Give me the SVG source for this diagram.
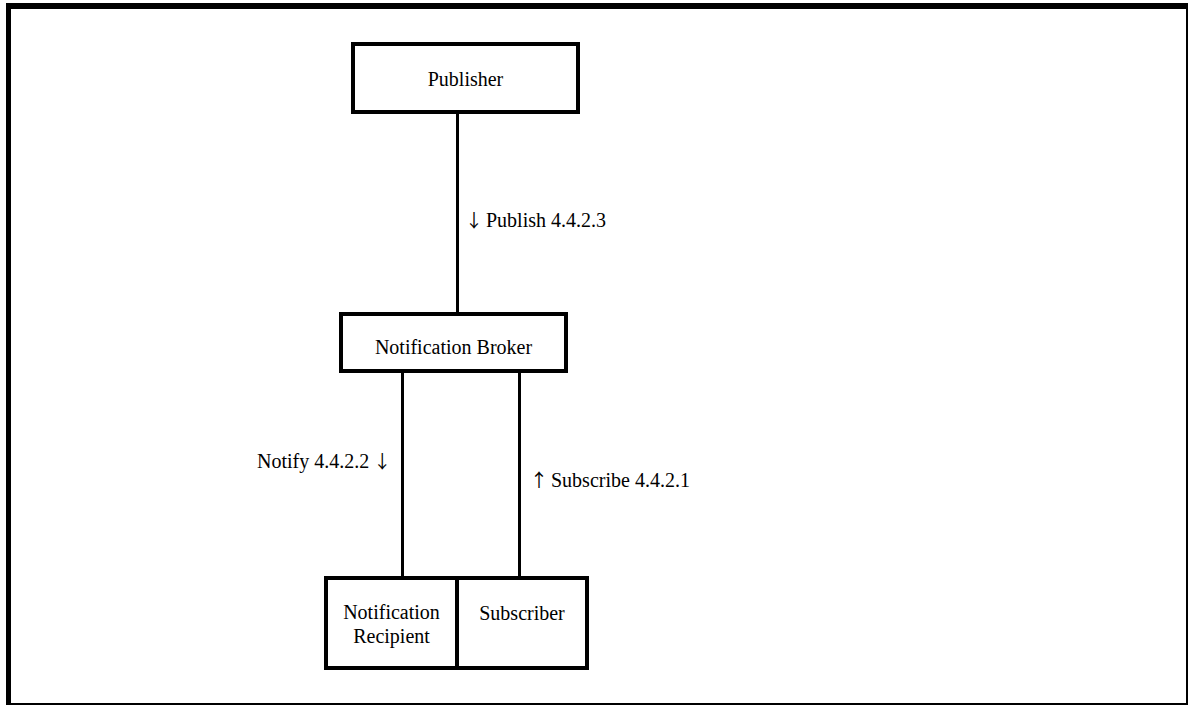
<svg xmlns="http://www.w3.org/2000/svg" width="1190" height="707" viewBox="0 0 1190 707">
  <style>
    .box { fill: #ffffff; stroke: #000000; stroke-width: 4; }
    .wire { stroke: #000000; stroke-width: 3; fill: none; }
    .label { font-family: "Liberation Serif", "Times New Roman", "DejaVu Serif", serif; font-size: 20px; fill: #000000; }
    .arrow { font-family: "Noto Sans CJK JP", "DejaVu Sans", sans-serif; font-size: 18px; }
    .mid { text-anchor: middle; }
  </style>

  <!-- page frame: heavy top/left edges, light bottom/right edges -->
  <rect x="0" y="0" width="1190" height="707" fill="#ffffff"/>
  <path d="M6,3 H1188 V705 H6 Z M11,9 V703 H1186 V9 Z" fill="#000000" fill-rule="evenodd"/>

  <!-- connectors -->
  <g id="connectors">
    <line class="wire" x1="457.5" y1="114" x2="457.5" y2="312"/>
    <line class="wire" x1="402.5" y1="373" x2="402.5" y2="576"/>
    <line class="wire" x1="519.5" y1="373" x2="519.5" y2="576"/>
    <text class="label" x="465" y="227"><tspan class="arrow">↓</tspan><tspan dx="-2"> Publish 4.4.2.3</tspan></text>
    <text class="label" x="257" y="468">Notify 4.4.2.2<tspan dx="-1"> </tspan><tspan class="arrow">↓</tspan></text>
    <text class="label" x="530" y="487"><tspan class="arrow">↑</tspan><tspan dx="-2"> Subscribe 4.4.2.1</tspan></text>
  </g>

  <g id="publisher">
    <rect class="box" x="353" y="44" width="225" height="68"/>
    <text class="label mid" x="465.5" y="86">Publisher</text>
  </g>

  <g id="notification-broker">
    <rect class="box" x="341" y="314" width="225" height="57"/>
    <text class="label mid" x="453.5" y="354">Notification Broker</text>
  </g>

  <g id="notification-recipient">
    <rect class="box" x="326" y="578" width="131" height="90"/>
    <text class="label mid" x="391.5" y="619">Notification</text>
    <text class="label mid" x="391.5" y="643">Recipient</text>
  </g>

  <g id="subscriber">
    <rect class="box" x="457" y="578" width="130" height="90"/>
    <text class="label mid" x="522" y="620">Subscriber</text>
  </g>
</svg>
